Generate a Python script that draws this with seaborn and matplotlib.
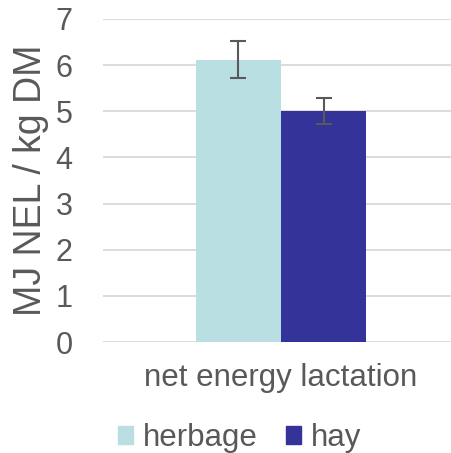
import numpy as np
import pandas as pd
import matplotlib
matplotlib.use("Agg")
import matplotlib.pyplot as plt
import matplotlib.patches as mpatches
import seaborn as sns

# data
categories = ["net energy lactation"]
feeds      = ["herbage", "hay"]
means      = [6.12, 5.0]
errors     = [0.40, 0.28]
colors     = ["#B9DFE2", "#333399"]
y_ticks    = [0, 1, 2, 3, 4, 5, 6, 7]

TEXT = "#595959"
GRID = "#D9D9D9"

sns.set_style("white")
plt.rcParams["font.family"] = ["Liberation Sans", "DejaVu Sans"]

df = pd.DataFrame({"category": categories * len(feeds), "feed": feeds, "value": means})

fig = plt.figure(figsize=(4.52, 4.53), dpi=100)
ax = fig.add_axes([103 / 452, 111 / 453, 356 / 452, 323 / 453])

sns.barplot(data=df, x="category", y="value", hue="feed", hue_order=feeds,
            palette=colors, saturation=1, width=0.48, errorbar=None,
            legend=False, linewidth=0, ax=ax, zorder=2)

# error bars at the bar centres seaborn placed
for patch, err in zip(ax.patches, errors):
    xc = patch.get_x() + patch.get_width() / 2
    ax.errorbar(xc, patch.get_height(), yerr=err, color=TEXT, lw=1.5,
                capsize=6, capthick=1.5, zorder=3)

ax.set_xlim(-0.5, 0.5)
ax.set_ylim(0, 7)
ax.set_yticks(y_ticks)
ax.yaxis.grid(True, color=GRID, lw=1.3, zorder=0)
ax.set_axisbelow(True)
sns.despine(ax=ax, left=True, bottom=True)
ax.tick_params(axis="y", length=0, pad=22, labelsize=22, labelcolor=TEXT)
ax.tick_params(axis="x", length=0, pad=15, labelsize=22.5, labelcolor=TEXT)
ax.set_xlabel("")
ax.set_ylabel("MJ NEL / kg DM", fontsize=27, color=TEXT, va="center")
ax.yaxis.set_label_coords(31 / 452, (453 - 180) / 453, transform=fig.transFigure)

handles = [mpatches.Patch(color=c, label=f) for c, f in zip(colors, feeds)]
fig.legend(handles=handles, loc="center", bbox_to_anchor=(0.53, 1 - 438 / 453),
           ncol=2, frameon=False, fontsize=22.5, labelcolor=TEXT,
           handlelength=0.5, handleheight=0.5, handletextpad=0.3,
           columnspacing=0.9)

fig.savefig("out.png", dpi=100)
